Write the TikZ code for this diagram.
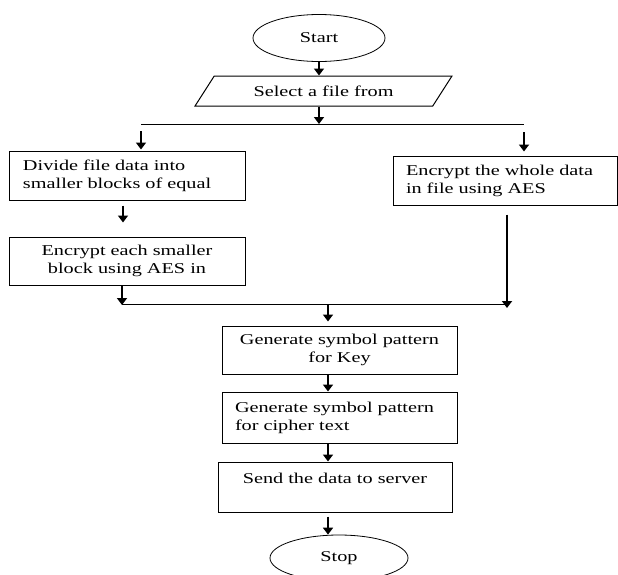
\documentclass[tikz,border=0pt]{standalone}
\usepackage{fontspec}
\setmainfont{Liberation Serif}[FakeStretch=1.35]
\usetikzlibrary{shapes.geometric,arrows.meta}
\tikzset{
  box/.style={draw,line width=1pt,minimum width=#1,inner sep=0pt,font=\fontsize{15}{18}\selectfont},
  oval/.style={draw,ellipse,line width=0.8pt,inner sep=0pt,font=\fontsize{15}{18}\selectfont},
  arr/.style={line width=2pt,-{Triangle[width=10pt,length=7pt]}}
}
\begin{document}
\begin{tikzpicture}[x=1pt,y=-1pt]
\useasboundingbox (0,0) rectangle (618,574);
%Start and input
\node[oval,minimum width=132,minimum height=47] (start) at (319,38) {Start};
\node[box,trapezium,trapezium left angle=41,trapezium right angle=139,trapezium stretches=true,
  minimum width=257,minimum height=30] (select) at (323.5,91) {Select a file from};
\draw[arr] (start.south) -- (start.south |- select.north);
%Split into two branches
\coordinate (splitL) at (141,124);
\coordinate (splitR) at (524,124);
\draw[line width=1pt] (splitL) -- (splitR);
\draw[arr] (select.south -| start.south) -- (start.south |- splitL);
%Left branch
\node[box,minimum width=236,minimum height=49,text width=208,align=left] (divide) at (127,175.5)
  {Divide file data into\\smaller blocks of equal};
\node[box,minimum width=236,minimum height=48,align=center] (eachblk) at (127,261)
  {Encrypt each smaller\\block using AES in};
\draw[arr,shorten <=7pt,shorten >=1pt] (splitL) -- (splitL |- divide.north);
\draw[arr,shorten <=5pt,shorten >=14pt] ([xshift=-4pt]divide.south) -- ([xshift=-4pt]eachblk.north);
%Right branch
\node[box,minimum width=224,minimum height=49,text width=198,align=left] (whole) at (505,180.5)
  {Encrypt the whole data\\in file using AES};
\draw[arr,shorten <=8pt,shorten >=4pt] (splitR) -- (splitR |- whole.north);
%Join both branches
\coordinate (joinL) at (122,304);
\coordinate (joinR) at (507,304);
\draw[line width=1pt] (joinL) -- (joinR);
\draw[arr,shorten >=-1pt] (eachblk.south -| joinL) -- (joinL);
\draw[arr,shorten <=9pt,shorten >=-4pt] (whole.south -| joinR) -- (joinR);
%Symbol patterns and output
\node[box,minimum width=235,minimum height=48,align=center] (keypat) at (339.5,350)
  {Generate symbol pattern\\for Key};
\node[box,minimum width=235,minimum height=51,text width=209,align=left] (ciphpat) at (339.5,417.5)
  {Generate symbol pattern\\for cipher text};
\node[box,minimum width=234,minimum height=50,align=center] (send) at (335,487)
  {Send the data to server\\~};
\node[oval,minimum width=138,minimum height=46] (stop) at (339,558) {Stop};
\coordinate (mid) at (328,304);
\draw[arr,shorten >=4pt] (mid) -- (mid |- keypat.north);
\draw[arr] (mid |- keypat.south) -- (mid |- ciphpat.north);
\draw[arr] (mid |- ciphpat.south) -- (mid |- send.north);
\draw[arr,shorten <=4pt] (mid |- send.south) -- (mid |- stop.north);
\end{tikzpicture}
\end{document}
